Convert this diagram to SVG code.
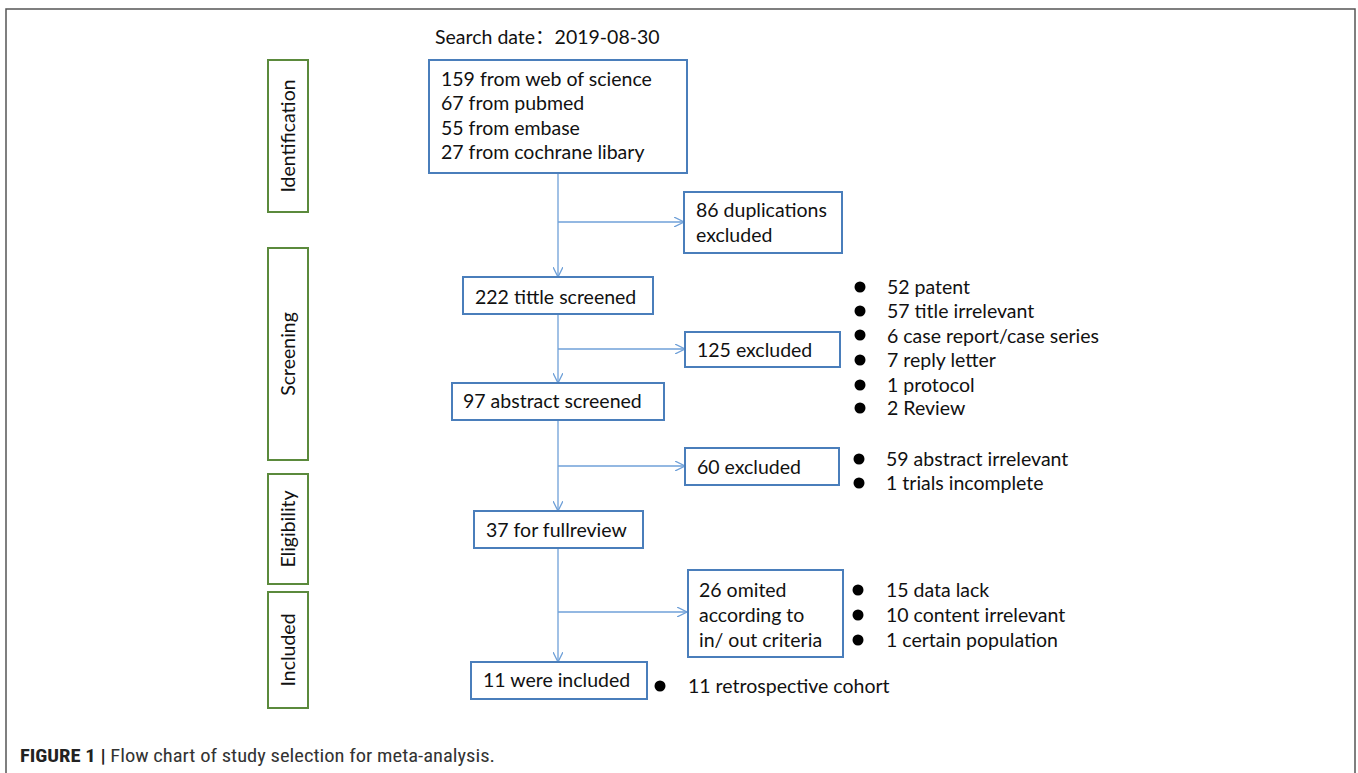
<svg xmlns="http://www.w3.org/2000/svg" width="1358" height="773" viewBox="0 0 1358 773">
<style>
.t{font-family:Lato,"Noto Sans","Noto Sans CJK SC",sans-serif;font-size:19.5px;fill:#111}
.box{fill:#fff;stroke:#4a7ebb;stroke-width:2}
.ph{fill:#fff;stroke:#5b8a3c;stroke-width:2}
.c{fill:none;stroke:#6fa0d8;stroke-width:1.3}
.dot{fill:#000}
.cap{font-family:"Liberation Sans Narrow","Roboto Condensed",Roboto,sans-serif;font-size:19px;fill:#333}
</style>
<defs>
<marker id="ah" viewBox="0 0 10 10" refX="10" refY="5" markerWidth="10" markerHeight="10" markerUnits="userSpaceOnUse" orient="auto">
<path d="M0,0 L10,5 L0,10" fill="none" stroke="#6fa0d8" stroke-width="1.3"/>
</marker>
</defs>
<rect width="1358" height="773" fill="#fff"/>
<rect x="6" y="9" width="1349" height="790" fill="none" stroke="#555" stroke-width="1.5"/>

<text class="t" x="435" y="44">Search date：2019-08-30</text>

<g id="phases">
<g id="ph-identification"><rect class="ph" x="268" y="60" width="40" height="152"/><text class="t" transform="translate(295,136) rotate(-90)" text-anchor="middle">Identification</text></g>
<g id="ph-screening"><rect class="ph" x="268" y="248" width="40" height="212"/><text class="t" transform="translate(295,354) rotate(-90)" text-anchor="middle">Screening</text></g>
<g id="ph-eligibility"><rect class="ph" x="268" y="474" width="40" height="110"/><text class="t" transform="translate(295,529) rotate(-90)" text-anchor="middle">Eligibility</text></g>
<g id="ph-included"><rect class="ph" x="268" y="592" width="40" height="116"/><text class="t" transform="translate(295,650) rotate(-90)" text-anchor="middle">Included</text></g>
</g>

<g id="connectors">
<path class="c" d="M558,173 V277" marker-end="url(#ah)"/>
<path class="c" d="M558,222 H684" marker-end="url(#ah)"/>
<path class="c" d="M558,314 V383" marker-end="url(#ah)"/>
<path class="c" d="M558,349 H685" marker-end="url(#ah)"/>
<path class="c" d="M558,420 V511" marker-end="url(#ah)"/>
<path class="c" d="M558,466 H685" marker-end="url(#ah)"/>
<path class="c" d="M558,548 V662" marker-end="url(#ah)"/>
<path class="c" d="M558,612 H687" marker-end="url(#ah)"/>
</g>

<g id="n-sources"><rect class="box" x="429" y="60" width="258" height="113"/>
<text class="t" x="441" y="86">159 from web of science</text>
<text class="t" x="441" y="110">67 from pubmed</text>
<text class="t" x="441" y="135">55 from embase</text>
<text class="t" x="441" y="159">27 from cochrane libary</text></g>

<g id="n-dup"><rect class="box" x="684" y="192" width="158" height="61"/>
<text class="t" x="696" y="217">86 duplications</text><text class="t" x="696" y="242">excluded</text></g>

<g id="n-title"><rect class="box" x="463" y="277" width="190" height="37"/><text class="t" x="475" y="304">222 tittle screened</text></g>

<g id="n-ex125"><rect class="box" x="685" y="332" width="155" height="35"/><text class="t" x="697" y="357">125 excluded</text></g>

<g id="n-abstract"><rect class="box" x="452" y="383" width="212" height="37"/><text class="t" x="463" y="408">97 abstract screened</text></g>

<g id="n-ex60"><rect class="box" x="685" y="448" width="154" height="37"/><text class="t" x="697" y="474">60 excluded</text></g>

<g id="n-full"><rect class="box" x="474" y="511" width="169" height="37"/><text class="t" x="486" y="537">37 for fullreview</text></g>

<g id="n-omit"><rect class="box" x="688" y="570" width="155" height="87"/>
<text class="t" x="699" y="597">26 omited</text><text class="t" x="699" y="622">according to</text><text class="t" x="699" y="647">in/ out criteria</text></g>

<g id="n-incl"><rect class="box" x="471" y="662" width="176" height="37"/><text class="t" x="483" y="687">11 were included</text></g>

<g id="list-125">
<circle class="dot" cx="860" cy="287" r="5.5"/><text class="t" x="887" y="294">52 patent</text>
<circle class="dot" cx="860" cy="311" r="5.5"/><text class="t" x="887" y="318">57 title irrelevant</text>
<circle class="dot" cx="860" cy="335" r="5.5"/><text class="t" x="887" y="343">6 case report/case series</text>
<circle class="dot" cx="860" cy="360" r="5.5"/><text class="t" x="887" y="367">7 reply letter</text>
<circle class="dot" cx="860" cy="385" r="5.5"/><text class="t" x="887" y="392">1 protocol</text>
<circle class="dot" cx="860" cy="408" r="5.5"/><text class="t" x="887" y="415">2 Review</text>
</g>
<g id="list-60">
<circle class="dot" cx="859" cy="459" r="5.5"/><text class="t" x="886" y="466">59 abstract irrelevant</text>
<circle class="dot" cx="859" cy="483" r="5.5"/><text class="t" x="886" y="490">1 trials incomplete</text>
</g>
<g id="list-26">
<circle class="dot" cx="858" cy="590" r="5.5"/><text class="t" x="886" y="597">15 data lack</text>
<circle class="dot" cx="858" cy="615" r="5.5"/><text class="t" x="886" y="622">10 content irrelevant</text>
<circle class="dot" cx="858" cy="640" r="5.5"/><text class="t" x="886" y="647">1 certain population</text>
</g>
<g id="list-11">
<circle class="dot" cx="660" cy="686" r="5.5"/><text class="t" x="688" y="693">11 retrospective cohort</text>
</g>

<text class="cap" x="20" y="762" textLength="475" lengthAdjust="spacingAndGlyphs"><tspan font-weight="bold" fill="#222">FIGURE 1 |</tspan> Flow chart of study selection for meta-analysis.</text>
</svg>
